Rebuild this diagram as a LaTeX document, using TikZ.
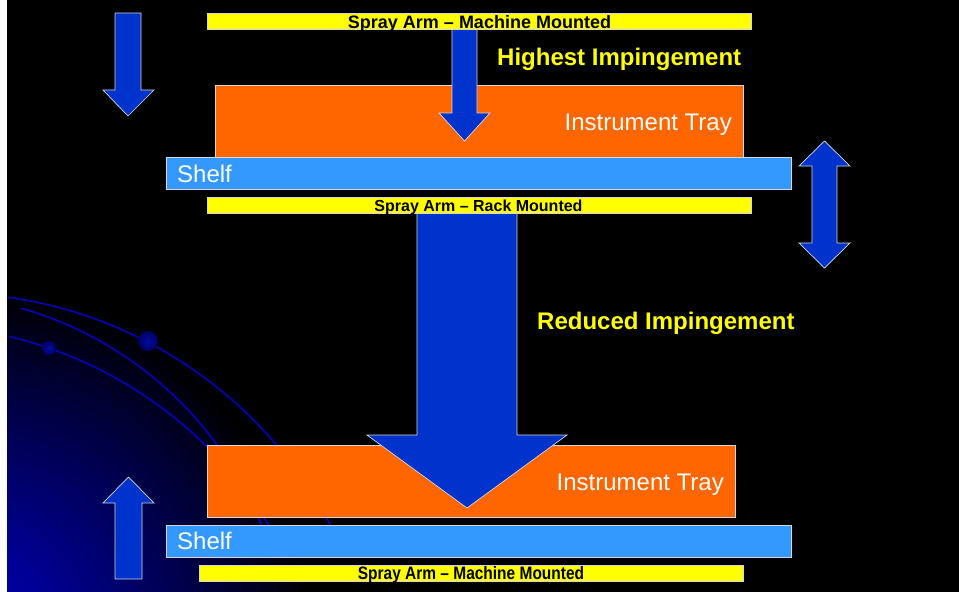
\documentclass[tikz,border=0pt]{standalone}
\usepackage{fontspec}
\setmainfont{Liberation Sans}
\usepackage{graphicx}
\definecolor{trayor}{RGB}{255,102,0}
\definecolor{shelfbl}{RGB}{51,153,255}
\definecolor{bary}{RGB}{255,255,0}
\definecolor{arrbl}{RGB}{0,51,204}
\definecolor{edgec}{RGB}{215,215,215}
\definecolor{bgblue}{RGB}{0,0,155}
\definecolor{arcblue}{RGB}{0,0,190}
\definecolor{ballin}{RGB}{0,12,165}
\definecolor{ballout}{RGB}{0,0,95}
\tikzset{
  boxbase/.style={draw=edgec, line width=0.7pt, inner sep=0pt, anchor=north west},
  traybox/.style={boxbase, fill=trayor, minimum width=#1, minimum height=72pt},
  shelfbox/.style={boxbase, fill=shelfbl, minimum width=625pt, minimum height=32pt},
  spraybar/.style={boxbase, fill=bary, minimum width=544pt, minimum height=16pt},
  bigwhite/.style={text=white, inner sep=0pt, font=\fontsize{24}{28}\selectfont},
  yellowhead/.style={text=bary, inner sep=0pt, anchor=base west, font=\bfseries\fontsize{24}{28}\selectfont},
  bartext/.style={text=black, inner sep=0pt, anchor=base, font=\bfseries\fontsize{#1}{20}\selectfont},
  arrowshape/.style={draw=edgec, line width=0.7pt, fill=arrbl, line join=miter},
  arcline/.style={draw=arcblue, line width=1.6pt},
  ball/.style={inner color=ballin, outer color=ballout, draw=none}
}
\begin{document}
\begin{tikzpicture}[x=1pt,y=-1pt]
\useasboundingbox (0,0) rectangle (959,592);
% background
\fill[black] (7,0) rectangle (959,592);
\fill[white] (0,0) rectangle (7,592);
\begin{scope}
  \clip (7,0) rectangle (959,592);
  \foreach \k in {0,...,60}{
    \pgfmathsetmacro{\rr}{340-4.5*\k}
    \pgfmathsetmacro{\pp}{100*(\k/60)^0.9}
    \fill[bgblue!\pp!black] (-30,630) circle (\rr);
  }
  \draw[arcline] plot[domain=25:82, samples=60, smooth] ({-52+431*cos(\x)}, {724-431*sin(\x)});
  \draw[arcline] plot[domain=19:74, samples=60, smooth] ({-80+368*cos(\x)}, {662-368*sin(\x)});
  \draw[arcline] plot[domain=29:76.5, samples=60, smooth] ({-88+418*cos(\x)}, {743-418*sin(\x)});
  \shade[ball] (148,341) circle (10);
  \shade[ball] (49,348) circle (7);
\end{scope}
% upper assembly
\node[traybox=528pt] (tray1) at (215,85) {};
\node[shelfbox] (shelf1) at (166,157) {};
% lower assembly
\node[traybox=528pt] (tray2) at (207,445) {};
\node[shelfbox] (shelf2) at (166,525) {};
% arrows
\draw[arrowshape] (115,13) -- (141,13) -- (141,90) -- (154,90) -- (128,116) -- (103,90) -- (115,90) -- cycle;
\draw[arrowshape] (452,29) -- (477,29) -- (477,113) -- (490,113) -- (464.5,141) -- (439,113) -- (452,113) -- cycle;
\draw[arrowshape] (824.5,141) -- (850,166) -- (837,166) -- (837,243) -- (850,243) -- (824.5,268) -- (799,243) -- (812,243) -- (812,166) -- (799,166) -- cycle;
\draw[arrowshape] (417,213) -- (517,213) -- (517,435) -- (567,435) -- (467,508) -- (367,435) -- (417,435) -- cycle;
\draw[arrowshape] (128.5,477) -- (154,503) -- (142,503) -- (142,579) -- (115,579) -- (115,503) -- (103,503) -- cycle;
% spray arm bars
\node[spraybar] (bar1) at (207,13) {};
\node[spraybar] (bar2) at (207,197) {};
\node[spraybar] (bar3) at (199,565) {};
% texts
\node[bartext=18] (bar1t) at (479.5,28) {Spray Arm – Machine Mounted};
\node[bartext=16] (bar2t) at (478.5,211) {Spray Arm – Rack Mounted};
\node[bartext=18] (bar3t) at (471,579) {\scalebox{0.86}[1]{Spray Arm – Machine Mounted}};
\node[yellowhead] (hi) at (497,65) {Highest Impingement};
\node[yellowhead] (red) at (537,329) {Reduced Impingement};
\node[bigwhite, anchor=base east] (tray1t) at (732,130) {Instrument Tray};
\node[bigwhite, anchor=base east] (tray2t) at (724,490) {Instrument Tray};
\node[bigwhite, anchor=base west] (shelf1t) at (177,182) {Shelf};
\node[bigwhite, anchor=base west] (shelf2t) at (177,549) {Shelf};
\end{tikzpicture}
\end{document}
